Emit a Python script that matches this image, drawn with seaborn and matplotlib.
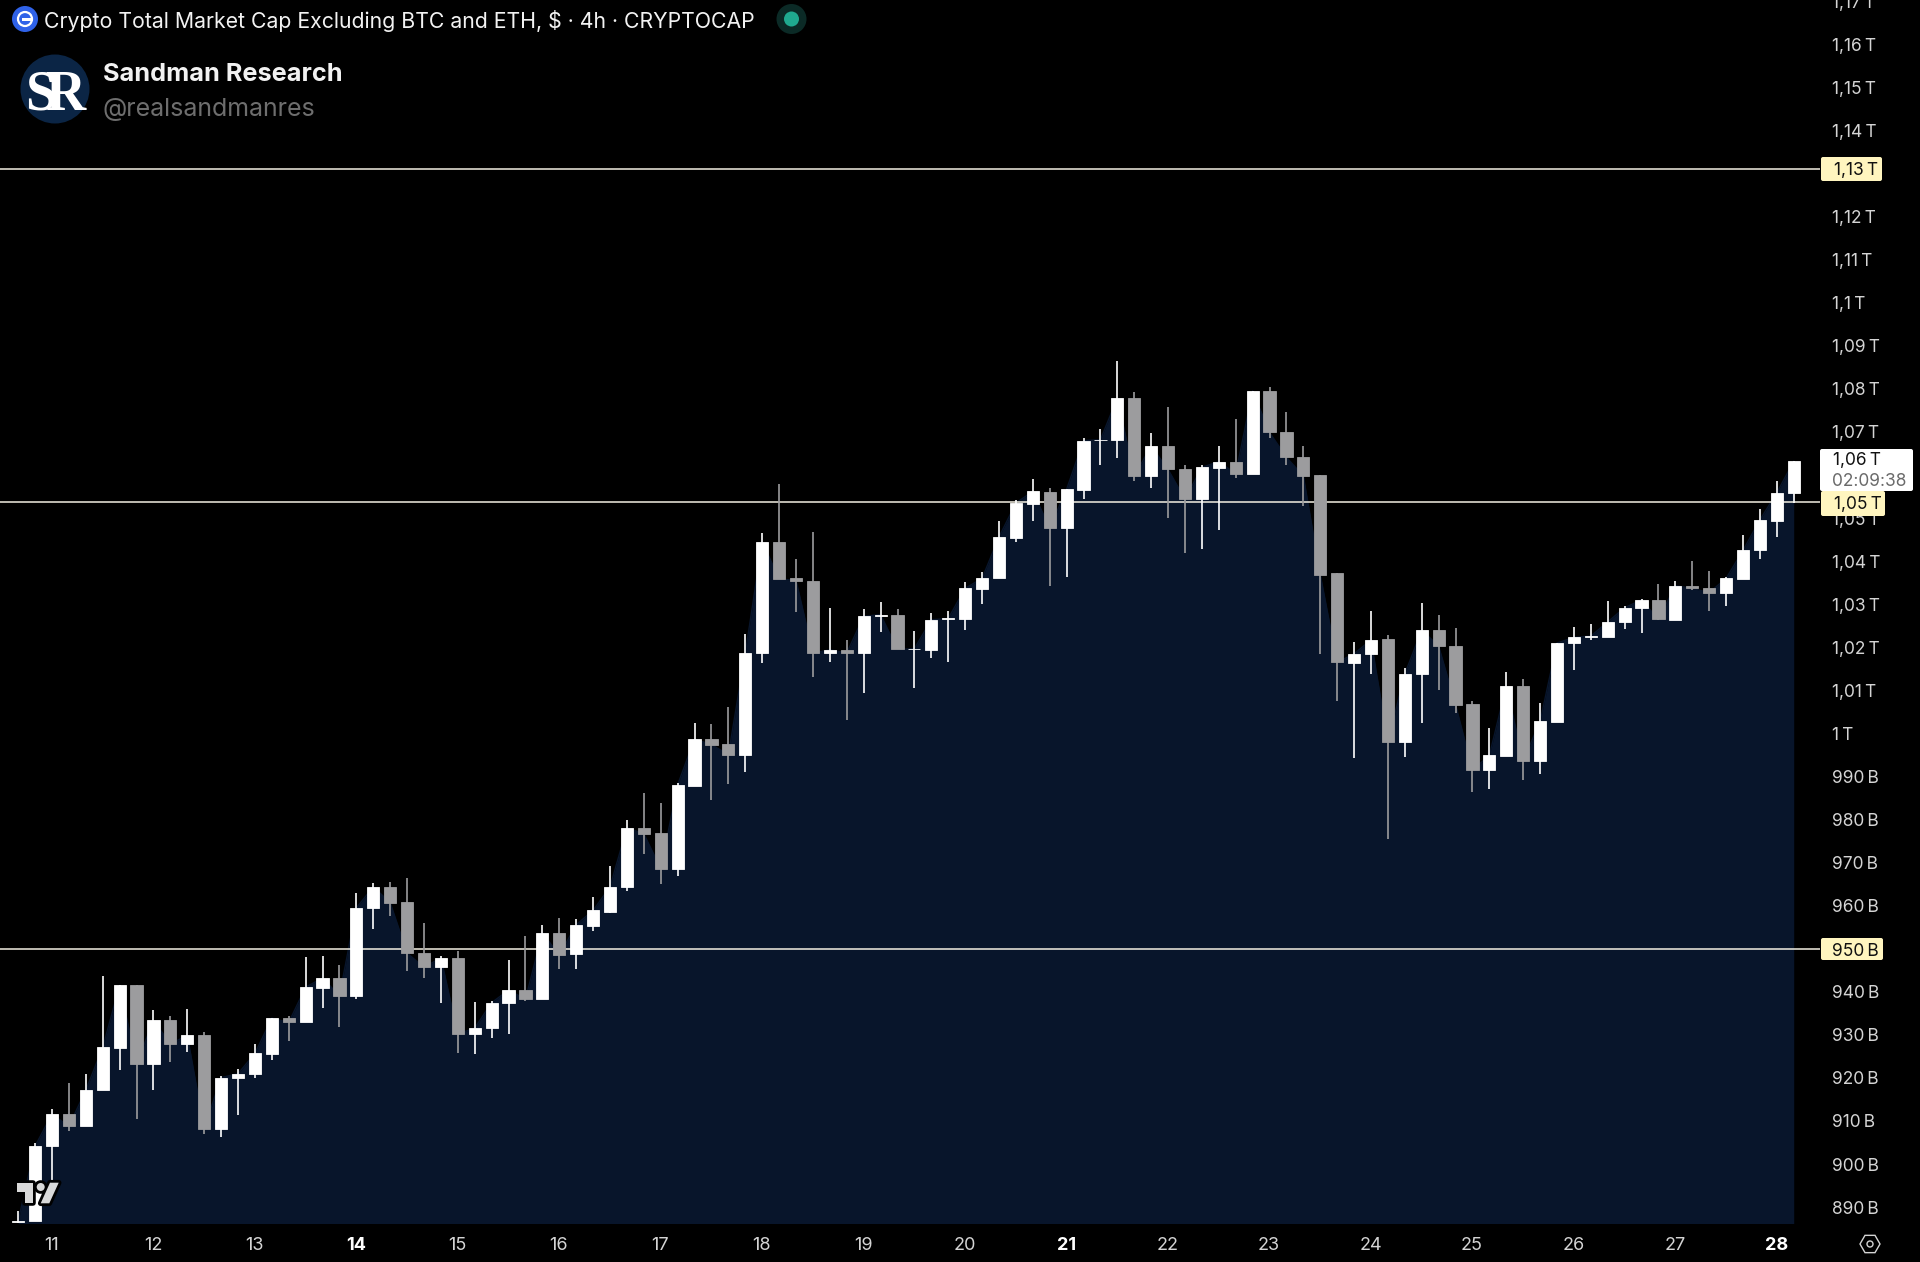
import pandas as pd
import numpy as np
import matplotlib.pyplot as plt
import seaborn as sns
from matplotlib.patches import Circle, Rectangle, Polygon, RegularPolygon, FancyBboxPatch
from matplotlib.transforms import ScaledTranslation

sns.set_theme(style="dark")
plt.rcParams['font.family'] = ['Inter', 'DejaVu Sans']

# 4h candles in billions, one per slot, first two sit before the "11" tick
opens = [886.2, 886.5, 903.8, 911.3, 908.5, 916.9, 926.6, 941.2, 922.9, 933.1,
         927.6, 929.6, 907.9, 919.6, 920.6, 925.3, 933.7, 932.6, 940.6, 942.9,
         938.8, 959.1, 964.1, 960.5, 948.7, 945.4, 947.6, 929.9, 931.3, 937.2,
         940.1, 938.0, 953.4, 948.4, 955.1, 958.3, 964.0, 977.8, 976.6, 968.3,
         987.6, 998.4, 997.3, 994.8, 1018.3, 1044.2, 1035.8, 1035.2, 1018.4, 1019.1,
         1018.4, 1027.0, 1027.2, 1019.2, 1019.1, 1026.2, 1026.2, 1033.3, 1035.7, 1045.1,
         1052.9, 1055.8, 1047.4, 1056.3, 1067.8, 1067.8, 1077.6, 1059.5, 1066.4, 1061.0,
         1054.1, 1061.4, 1062.8, 1060.0, 1079.3, 1069.6, 1063.8, 1059.6, 1036.9, 1016.0,
         1018.2, 1021.6, 997.8, 1013.4, 1023.8, 1019.9, 1006.5, 991.2, 994.5, 1010.7,
         993.3, 1002.3, 1020.7, 1022.1, 1022.0, 1025.5, 1028.8, 1030.6, 1026.1, 1034.0,
         1033.5, 1032.3, 1035.6, 1042.2, 1049.1, 1055.6]
highs = [888.9, 904.7, 912.5, 918.6, 920.6, 943.3, 941.2, 941.2, 935.4, 934.2,
         935.7, 930.3, 920.2, 921.8, 927.5, 933.6, 934.0, 947.7, 948.1, 945.9,
         962.7, 964.9, 965.1, 966.1, 955.6, 948.1, 949.2, 937.3, 937.5, 947.1,
         952.7, 955.3, 956.8, 956.6, 961.8, 968.9, 979.7, 985.9, 983.6, 988.2,
         1002.1, 1001.9, 1005.8, 1022.8, 1046.3, 1057.6, 1040.3, 1046.4, 1028.8, 1021.5,
         1028.6, 1030.2, 1028.6, 1023.5, 1027.7, 1028.2, 1034.8, 1037.1, 1049.0, 1053.8,
         1058.7, 1056.6, 1056.4, 1068.2, 1070.3, 1086.1, 1078.9, 1069.5, 1075.4, 1062.1,
         1062.1, 1066.4, 1072.8, 1079.2, 1080.1, 1074.3, 1066.4, 1059.7, 1036.9, 1021.0,
         1028.2, 1022.6, 1014.8, 1029.9, 1027.1, 1024.1, 1007.3, 1000.9, 1013.9, 1012.4,
         1006.7, 1020.7, 1024.5, 1025.1, 1030.5, 1029.2, 1030.9, 1034.4, 1035.1, 1039.8,
         1037.4, 1036.0, 1045.7, 1051.8, 1058.3, 1062.9]
lows = [886.1, 886.5, 896.0, 907.3, 908.5, 916.9, 921.6, 910.1, 917.0, 923.3,
        925.7, 906.6, 906.1, 911.1, 919.6, 923.9, 928.4, 932.6, 935.9, 931.5,
        938.1, 954.3, 957.3, 944.6, 942.9, 937.1, 925.4, 925.2, 929.0, 929.8,
        937.5, 938.0, 945.1, 945.0, 953.9, 957.9, 963.1, 971.8, 964.8, 966.6,
        987.6, 984.3, 988.0, 990.7, 1016.0, 1035.6, 1028.0, 1012.9, 1016.4, 1002.9,
        1009.1, 1023.2, 1019.2, 1010.2, 1017.2, 1016.2, 1023.8, 1029.8, 1035.7, 1044.1,
        1049.1, 1034.0, 1036.1, 1054.2, 1062.1, 1063.7, 1058.3, 1056.8, 1049.8, 1041.5,
        1042.5, 1047.0, 1059.1, 1059.9, 1068.4, 1062.1, 1052.4, 1018.2, 1007.3, 993.9,
        1013.5, 975.2, 994.3, 1002.2, 1009.7, 1004.4, 986.1, 986.8, 994.5, 988.8,
        990.2, 1002.3, 1014.4, 1021.3, 1022.0, 1023.9, 1023.1, 1026.1, 1026.1, 1032.9,
        1028.2, 1029.4, 1035.6, 1040.2, 1045.4, 1053.2]
closes = [886.5, 903.9, 911.3, 908.5, 916.9, 926.8, 941.2, 922.9, 933.1, 927.6,
          929.6, 907.9, 919.8, 920.7, 925.4, 933.6, 932.6, 940.8, 942.9, 938.8,
          959.2, 964.1, 960.4, 948.7, 945.4, 947.6, 929.9, 931.3, 937.2, 940.1,
          938.0, 953.4, 948.2, 955.3, 958.6, 964.1, 977.8, 976.4, 968.3, 987.8,
          998.4, 997.1, 994.8, 1018.4, 1044.2, 1035.6, 1035.2, 1018.4, 1019.1, 1018.4,
          1026.9, 1027.3, 1019.2, 1019.4, 1026.1, 1026.4, 1033.4, 1035.7, 1045.3, 1053.2,
          1055.9, 1047.4, 1056.4, 1067.7, 1067.9, 1077.6, 1059.5, 1066.4, 1061.0, 1054.1,
          1061.5, 1062.8, 1060.0, 1079.2, 1069.6, 1063.8, 1059.5, 1036.6, 1016.2, 1018.2,
          1021.4, 997.8, 1013.5, 1023.7, 1020.0, 1006.4, 991.2, 994.6, 1010.7, 993.3,
          1002.5, 1020.7, 1022.0, 1022.3, 1025.6, 1028.9, 1030.7, 1026.2, 1034.0, 1033.4,
          1032.4, 1035.7, 1042.2, 1049.3, 1055.6, 1062.9]

day_slots = [0, 6, 12, 18, 24, 30, 36, 42, 48, 54, 60, 66, 72, 78, 84, 90, 96, 102]
day_labels = ['11', '12', '13', '14', '15', '16', '17', '18', '19', '20', '21',
              '22', '23', '24', '25', '26', '27', '28']
bold_days = ['14', '21', '28']

# 950 B, 1,06 T and 1,13 T are carried by the boxes drawn over the axis
price_ticks = [890, 900, 910, 920, 930, 940, 960, 970, 980, 990, 1000, 1010, 1020, 1030,
               1040, 1050, 1070, 1080, 1090, 1100, 1110, 1120, 1140, 1150, 1160, 1170]
price_labels = ['890 B', '900 B', '910 B', '920 B', '930 B', '940 B', '960 B', '970 B',
                '980 B', '990 B', '1 T', '1,01 T', '1,02 T', '1,03 T', '1,04 T', '1,05 T',
                '1,07 T', '1,08 T', '1,09 T', '1,1 T', '1,11 T', '1,12 T', '1,14 T',
                '1,15 T', '1,16 T', '1,17 T']
level_lines = [949.7, 1053.5, 1130.8]

df = pd.DataFrame({'open': opens, 'high': highs, 'low': lows, 'close': closes})
df['slot'] = np.arange(len(df)) - 2
df['up'] = df['close'] >= df['open']

W, H = 1920, 1262
BG = '#000000'
AREA = '#08152B'
UP = '#FFFFFF'
DOWN = '#9C9C9E'
LEVEL = '#F3F0E2'
TICK = '#D4D4D4'
YELLOW = '#FFF5BF'
LOGO = '#D9D9D9'

fig = plt.figure(figsize=(W / 100, H / 100), dpi=100, facecolor=BG)
ax = fig.add_axes([0, (H - 1222.7) / H, 1820 / W, 1222.7 / H], facecolor=BG)

# area under closes
ax.fill_between(df['slot'], df['close'], 880, color=AREA, lw=0, zorder=1)
sns.lineplot(data=df, x='slot', y='close', color=AREA, lw=1, ax=ax, zorder=1)

for lvl in level_lines:
    ax.axhline(lvl, color=LEVEL, lw=1.1, zorder=2)

colors = [UP if u else DOWN for u in df['up']]
ax.vlines(df['slot'], df['low'], df['high'], colors=colors, lw=1.2, zorder=3)
ax.bar(df['slot'], (df['close'] - df['open']).abs(), bottom=df[['open', 'close']].min(axis=1),
       width=0.72, color=colors, edgecolor=colors, lw=0.6, zorder=4)

ax.set_xlim(-52 / 16.91, (1820 - 52) / 16.91)
ax.set_ylim(886.1, 1170)
ax.grid(False)
for s in ax.spines.values():
    s.set_visible(False)

ax.set_xticks(day_slots)
ax.set_xticklabels(day_labels, fontsize=13, color=TICK)
ax.yaxis.tick_right()
ax.set_yticks(price_ticks)
ax.set_yticklabels([s.replace(' ', '\u2009') for s in price_labels], fontsize=12.5, color=TICK)
ax.tick_params(axis='x', length=0, pad=10)
ax.tick_params(axis='y', length=0, pad=9)
ax.set_xlabel('')
ax.set_ylabel('')

# nudges go after tick_params, it resets the label transforms
for t in ax.get_xticklabels():
    t.set_transform(t.get_transform() + ScaledTranslation(-0.5 / 100, 0, fig.dpi_scale_trans))
    if t.get_text() in bold_days:
        t.set_fontweight('bold')
        t.set_color('white')
for t in ax.get_yticklabels():
    t.set_transform(t.get_transform() + ScaledTranslation(0, -1.2 / 100, fig.dpi_scale_trans))

# overlay in pixel coords for header, logo, price boxes
ov = fig.add_axes([0, 0, 1, 1], facecolor='none')
ov.set_xlim(0, W)
ov.set_ylim(H, 0)
ov.axis('off')


def price_box(x0, y0, x1, y1, color):
    ov.add_patch(FancyBboxPatch((x0 + 2, y0 + 2), x1 - x0 - 4, y1 - y0 - 4,
                                boxstyle='round,pad=2,rounding_size=2', fc=color, ec='none'))


price_box(1821, 157, 1882, 181, YELLOW)
ov.text(1834, 169, '1,13\u2009T', color='#111111', fontsize=12.5, va='center_baseline')
price_box(1821, 491, 1885, 516, YELLOW)
ov.text(1834, 503, '1,05\u2009T', color='#111111', fontsize=12.5, va='center_baseline')
price_box(1821, 938, 1883, 960, YELLOW)
ov.text(1832, 949, '950\u2009B', color='#111111', fontsize=12.5, va='center_baseline')
price_box(1820, 449, 1913, 491, '#FFFFFF')
ov.text(1833, 459, '1,06\u2009T', color='#111111', fontsize=12.5, va='center_baseline')
ov.text(1832, 479, '02:09:38', color='#6A6A6A', fontsize=12.5, va='center_baseline')

# header
ov.add_patch(Circle((25, 19), 13, fc='#2F62E8', ec='none'))
ov.add_patch(Circle((25, 19), 7, fc='none', ec='white', lw=1.6))
ov.add_patch(Rectangle((22, 17.5), 11, 3, fc='white', ec='none'))
ov.text(44, 19, 'Crypto Total Market Cap Excluding BTC and ETH, $ \u00b7 4h \u00b7 CRYPTOCAP',
        color='#F2F2F2', fontsize=15.3, va='center_baseline')
ov.add_patch(Circle((791.5, 19), 15, fc='#0B2A26', ec='none'))
ov.add_patch(Circle((791.5, 19), 7.5, fc='#1FA98F', ec='none'))

ov.add_patch(Circle((55, 89), 34.5, fc='#0B2545', ec='none'))
ov.text(41, 89, 'S', color='white', fontsize=40, family='Liberation Serif', fontweight='bold',
        ha='center', va='center_baseline')
ov.text(66, 90, 'R', color='white', fontsize=40, family='Liberation Serif', fontweight='bold',
        ha='center', va='center_baseline')
ov.text(103, 72, 'Sandman Research', color='#F2F2F2', fontsize=18.2, fontweight='bold',
        va='center_baseline')
ov.text(103, 107, '@realsandmanres', color='#6E6E6E', fontsize=18, va='center_baseline')

# tradingview mark, black halo cuts the candles behind it
tv_t = [(16.7, 1182.7), (33.3, 1182.7), (33.3, 1203.3), (25, 1203.3), (25, 1191.7), (16.7, 1191.7)]
tv_slash = [(50, 1182.7), (58.7, 1182.7), (49.3, 1203.3), (40.7, 1203.3)]
for ec, lw in [(BG, 4), (LOGO, 0)]:
    ov.add_patch(Polygon(tv_t, fc=LOGO, ec=ec, lw=lw, joinstyle='round'))
    ov.add_patch(Polygon(tv_slash, fc=LOGO, ec=ec, lw=lw, joinstyle='round'))
    ov.add_patch(Circle((40.7, 1187), 4, fc=LOGO, ec=ec, lw=lw))

# settings icon
ov.add_patch(RegularPolygon((1870, 1244), 6, radius=10, orientation=np.pi / 6, fc='none', ec='#D4D4D4', lw=1))
ov.add_patch(Circle((1870, 1244), 3, fc='none', ec='#D4D4D4', lw=1))

plt.savefig('out.png', dpi=100, facecolor=BG)
plt.close()
